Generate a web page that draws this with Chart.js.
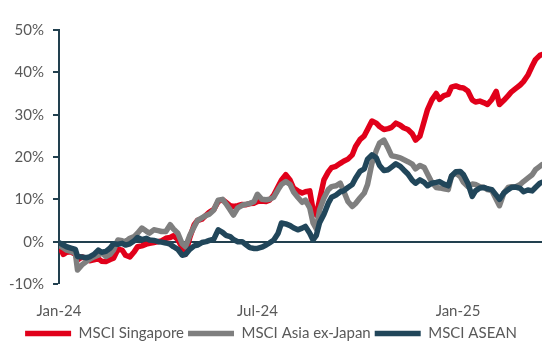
<!DOCTYPE html>
<html>
<head>
<meta charset="utf-8">
<script src="https://cdn.jsdelivr.net/npm/chart.js@4.4.1/dist/chart.umd.min.js"></script>
<style>
  html, body { margin: 0; padding: 0; background: #ffffff; }
  #wrap { width: 554px; height: 355px; position: relative; }
</style>
</head>
<body>
<div id="wrap"><canvas id="c" width="554" height="355"></canvas></div>
<script>
// Days since 1 Jan 2024
const days = [
  0,4,7,11,15,17,21,25,28,32,
  36,39,43,47,50,54,58,61,65,69,
  72,76,80,83,87,91,94,98,102,105,
  109,113,116,120,124,127,131,135,138,142,
  146,150,153,157,160,164,168,171,175,179,
  182,186,190,193,197,201,204,208,212,215,
  219,223,226,230,233,236,239,243,247,250,
  254,258,261,265,269,272,276,280,283,287,
  291,294,298,302,305,309,313,316,320,324,
  327,331,335,338,342,346,349,353,357,360,
  364,368,371,375,379,382,386,390,393,397,
  401,404,408,412,415,419,423,426,430,434,
  437,441,443
];

const singapore = [
  -1.0,-3.0,-2.5,-2.4,-3.0,-4.3,-3.6,-4.0,-4.5,-4.3,
  -4.0,-4.6,-4.7,-4.2,-3.9,-1.8,-2.0,-3.2,-3.6,-2.4,
  -1.2,-1.0,-0.6,-0.4,-0.2,0.0,0.2,0.8,1.0,1.4,
  0.5,-1.5,-3.0,1.0,4.0,5.0,5.3,6.3,7.0,7.6,
  9.5,9.9,9.3,8.5,8.3,8.5,8.8,8.7,9.0,9.1,
  9.5,9.6,9.5,9.8,11.0,13.0,14.5,15.8,14.5,12.7,
  12.0,11.5,11.8,12.0,7.5,6.3,9.9,14.6,16.5,17.5,
  17.8,18.5,19.0,19.5,20.5,22.5,24.1,25.0,26.5,28.5,
  28.0,27.2,26.5,26.7,27.0,28.0,27.5,26.9,26.5,25.5,
  24.0,24.9,28.5,31.2,33.5,35.0,33.6,34.5,34.8,36.5,
  36.8,36.4,36.3,35.6,33.5,33.0,33.2,32.8,32.4,33.6,
  35.5,32.4,33.4,34.5,35.4,36.2,37.0,37.8,39.3,41.5,
  43.0,44.0,44.2
];

const asiaExJapan = [
  -0.8,-1.5,-2.0,-2.3,-2.7,-6.7,-5.5,-4.7,-4.2,-3.6,
  -3.2,-2.6,-3.5,-3.0,-2.0,0.4,0.2,0.0,0.8,1.2,
  2.0,3.2,2.5,2.0,2.8,2.6,2.4,2.4,4.0,3.0,
  2.0,-0.5,-1.2,1.5,3.5,5.0,5.6,6.2,6.5,7.5,
  9.8,10.0,9.0,7.5,6.3,8.0,8.6,8.8,9.0,9.5,
  11.2,10.0,9.9,10.0,10.5,12.3,13.5,14.2,13.5,11.8,
  10.5,9.3,9.8,8.0,4.4,3.0,7.5,10.3,12.3,13.0,
  13.2,13.8,12.0,9.5,8.3,9.0,10.3,11.5,13.5,18.5,
  21.5,23.3,24.0,22.0,20.3,20.1,19.8,19.4,18.9,18.3,
  17.2,18.0,17.5,16.0,14.0,12.8,12.7,12.5,12.3,15.5,
  16.2,15.4,14.0,13.0,13.6,13.5,13.0,12.8,12.3,12.1,
  10.0,8.5,11.5,12.8,13.0,13.0,13.5,14.2,15.0,15.8,
  17.0,17.8,18.2
];

const asean = [
  -0.2,-0.8,-1.2,-1.5,-1.8,-3.5,-3.6,-3.8,-3.6,-3.0,
  -2.0,-2.5,-2.3,-1.5,-0.5,-0.6,-0.4,-0.8,-0.5,0.2,
  1.0,0.5,0.8,0.4,0.3,0.0,-0.1,-0.3,-0.6,-1.2,
  -1.8,-3.2,-3.0,-1.8,-1.0,-0.8,-0.2,0.0,0.3,0.6,
  2.8,2.2,1.5,1.2,0.5,0.0,0.0,-0.6,-1.4,-1.6,
  -1.6,-1.3,-0.8,-0.3,0.4,2.0,4.4,4.2,3.8,3.3,
  2.8,3.2,3.6,2.0,0.4,1.5,4.5,6.5,9.1,10.5,
  11.0,11.8,12.0,12.8,13.5,15.0,16.6,17.2,19.5,20.5,
  19.8,18.0,16.8,17.0,17.6,18.4,17.8,17.0,16.0,14.5,
  13.8,14.6,14.0,13.2,13.8,14.0,14.2,13.6,13.2,15.5,
  16.5,16.6,15.8,13.8,10.7,12.0,12.7,12.8,12.5,12.3,
  11.0,10.0,11.5,12.3,12.8,12.9,12.6,11.8,12.2,12.0,
  12.8,13.8,14.0
];

const seriesNames = ['MSCI Singapore', 'MSCI Asia ex-Japan', 'MSCI ASEAN'];
const xTickDays = [0, 182, 366];
const xTickLabels = ['Jan-24', 'Jul-24', 'Jan-25'];
const yTicks = [-10, 0, 10, 20, 30, 40, 50];

const AXIS = '#22404F';
const TXT = '#595959';
const FONT = 'Lato';

function pts(vals) { return vals.map((v, i) => ({ x: days[i], y: v })); }

const mk = (label, vals, color, order) => ({
  label, data: pts(vals), borderColor: color, backgroundColor: color,
  borderWidth: 5.5, pointRadius: 0, tension: 0, order,
  borderCapStyle: 'round', borderJoinStyle: 'round'
});

new Chart(document.getElementById('c'), {
  type: 'line',
  data: {
    datasets: [
      mk(seriesNames[0], singapore, '#E1001A', 3),
      mk(seriesNames[1], asiaExJapan, '#7F7F7F', 2),
      mk(seriesNames[2], asean, '#21465A', 1)
    ]
  },
  options: {
    responsive: false,
    animation: false,
    layout: { padding: { left: 0, right: 12, top: 30, bottom: 4 } },
    plugins: {
      legend: {
        position: 'bottom',
        labels: {
          usePointStyle: true,
          pointStyle: 'line',
          pointStyleWidth: 46,
          boxHeight: 14,
          padding: 4,
          color: TXT,
          font: { family: FONT, size: 15 },
          sort: (a, b) => a.datasetIndex - b.datasetIndex
        }
      },
      tooltip: { enabled: false }
    },
    scales: {
      x: {
        type: 'linear',
        min: 0, max: 443,
        afterBuildTicks: (s) => { s.ticks = xTickDays.map(v => ({ value: v })); },
        afterFit: (s) => { s.height = 38; },
        ticks: {
          autoSkip: false, maxRotation: 0, padding: 18,
          color: TXT, font: { family: FONT, size: 15 },
          callback: (v) => { const i = xTickDays.indexOf(v); return i >= 0 ? xTickLabels[i] : ''; }
        },
        grid: { display: false, drawTicks: false },
        border: { display: false }
      },
      y: {
        min: -10, max: 50,
        afterBuildTicks: (s) => { s.ticks = yTicks.map(v => ({ value: v })); },
        afterFit: (s) => { s.width = 59; },
        ticks: {
          padding: 9, color: TXT, font: { family: FONT, size: 15 },
          callback: (v) => v + '%'
        },
        grid: {
          drawOnChartArea: true,
          color: (c) => (c.tick && c.tick.value === 0) ? AXIS : 'rgba(0,0,0,0)',
          lineWidth: (c) => (c.tick && c.tick.value === 0) ? 2 : 0,
          tickColor: AXIS, tickLength: 6, tickWidth: 2
        },
        border: { display: true, color: AXIS, width: 2 }
      }
    }
  }
});
</script>
</body>
</html>
